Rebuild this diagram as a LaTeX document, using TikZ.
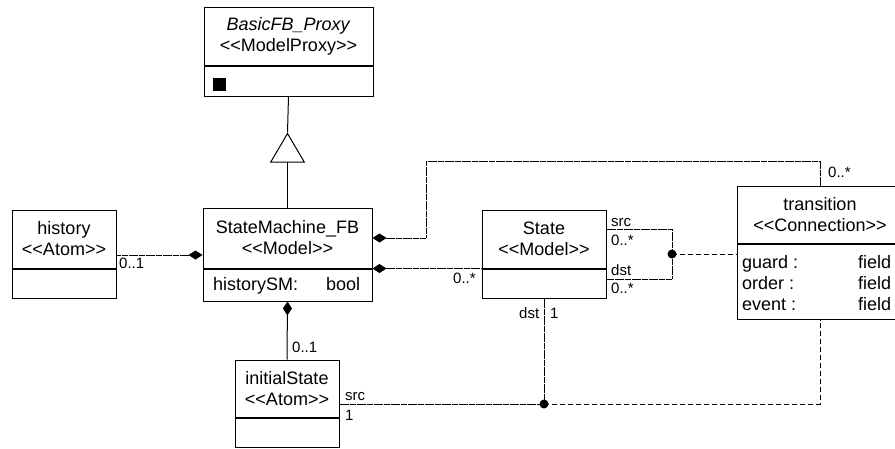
\documentclass[tikz,border=0pt]{standalone}
\usepackage{fontspec}
\setmainfont{Liberation Sans}
\usetikzlibrary{arrows.meta,calc}
\newcommand\stereo[1]{<{}<#1>{}>}
\begin{document}
\begin{tikzpicture}[x=1pt,y=-1pt,
  box/.style={draw,line width=1pt,inner sep=0pt,align=center,font=\fontsize{18}{21}\selectfont},
  txt/.style={inner sep=0pt,anchor=base west,font=\fontsize{18}{21}\selectfont},
  lbl/.style={inner sep=0pt,anchor=base west,font=\fontsize{15}{17}\selectfont},
  conn/.style={line width=1pt},
  fine/.style={conn,dash pattern=on 3pt off 0.4pt},
  dsh/.style={conn,dash pattern=on 5pt off 3pt},
  comp/.style={{Diamond[length=14pt,width=9pt]}-},
  gen/.style={-{Triangle[open,length=30pt,width=35pt]}},
  dot/.style={circle,fill,inner sep=0pt,minimum size=9pt},
]
\useasboundingbox (0,0) rectangle (895,448);

% BasicFB_Proxy
\node[box,minimum width=169pt,minimum height=58pt] (pt) at (288.5,36) {\textit{BasicFB\_Proxy}\\\stereo{ModelProxy}};
\node[box,minimum width=169pt,minimum height=30pt,anchor=north] (pa) at (pt.south) {};
\fill (213,78) rectangle (226,91);

% StateMachine_FB
\node[box,minimum width=169pt,minimum height=60pt] (smt) at (287.5,238) {StateMachine\_FB\\\stereo{Model}};
\node[box,minimum width=169pt,minimum height=32pt,anchor=north] (sma) at (smt.south) {};
\node[txt] (smattr) at (213,290) {historySM:};
\node[txt] (smtype) at (326,290) {bool};

% history
\node[box,minimum width=104pt,minimum height=58pt] (hit) at (64,239) {history\\\stereo{Atom}};
\node[box,minimum width=104pt,minimum height=29pt,anchor=north] (hia) at (hit.south) {};

% State
\node[box,minimum width=124pt,minimum height=58pt] (stt) at (544,239) {State\\\stereo{Model}};
\node[box,minimum width=124pt,minimum height=29pt,anchor=north] (sta) at (stt.south) {};

% transition
\node[box,minimum width=166pt,minimum height=57pt] (trt) at (820,214.5) {transition\\\stereo{Connection}};
\node[box,minimum width=166pt,minimum height=75pt,anchor=north] (tra) at (trt.south) {};
\node[txt] (g1) at (742,268) {guard :};
\node[txt] (g2) at (858,268) {field};
\node[txt] (o1) at (742,289) {order :};
\node[txt] (o2) at (858,289) {field};
\node[txt] (e1) at (742,310) {event :};
\node[txt] (e2) at (858,310) {field};

% initialState
\node[box,minimum width=104pt,minimum height=57pt] (ist) at (287,388.5) {initialState\\\stereo{Atom}};
\node[box,minimum width=104pt,minimum height=29pt,anchor=north] (isa) at (ist.south) {};

% generalization
\coordinate (apex) at ($(smt.north)+(0,-75)$);
\draw[conn,gen] (smt.north) -- (apex);
\draw[conn] (apex) -- (pa.south);

% compositions
\draw[fine,comp] ([yshift=-17pt]smt.west) coordinate (h1) -- (h1 -| hit.east);
\coordinate (u1) at (426,161);
\draw[fine,comp] (smt.east) -| (u1) -| (trt.north);
\draw[fine,comp] (smt.south east) -- (stt.south west);
\draw[conn,comp] (sma.south) -- (ist.north);

% junctions
\node[dot] (j1) at (672,254) {};
\draw[fine] ([yshift=10pt]stt.east) -| (j1.center) |- ([yshift=4.5pt]sta.east);
\draw[dsh] (j1.center) -- (j1 -| trt.west);

\node[dot] (j2) at (544,404) {};
\draw[fine] (sta.south) -- (j2.center);
\draw[fine] (j2 -| ist.east) -- (j2.center);
\draw[dsh] (j2.center) -| (tra.south);

% labels
\node[lbl] at (119,268) {0..1};
\node[lbl] at (453,283) {0..*};
\node[lbl] at (828,177) {0..*};
\node[lbl] at (611,226) {src};
\node[lbl] at (611,245) {0..*};
\node[lbl] at (611,275) {dst};
\node[lbl] at (611,293) {0..*};
\node[lbl] at (519,318) {dst};
\node[lbl] at (550,318) {1};
\node[lbl] at (292,352) {0..1};
\node[lbl] at (345,400) {src};
\node[lbl] at (345,420) {1};
\end{tikzpicture}
\end{document}
